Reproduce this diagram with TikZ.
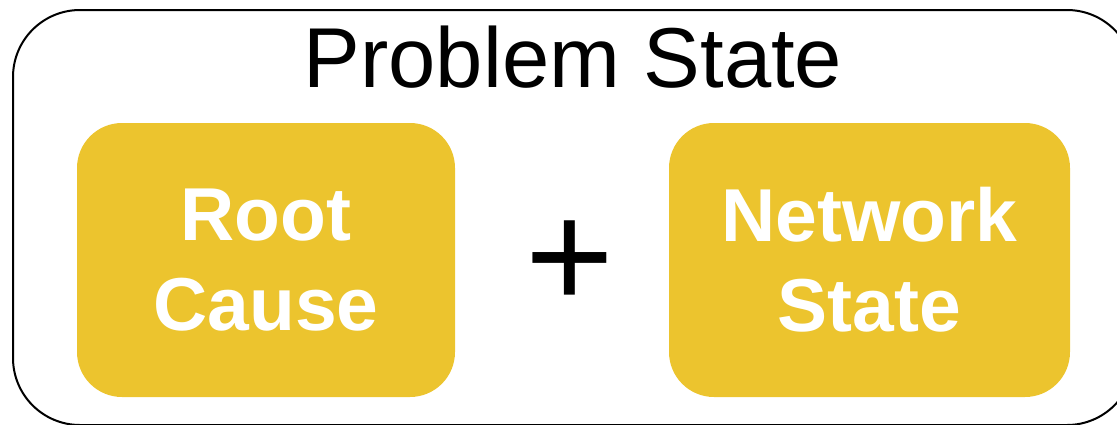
\documentclass[tikz,border=0pt]{standalone}
\usepackage{fontspec}
\setmainfont{Liberation Sans}
\definecolor{boxyellow}{RGB}{236,196,46}
\begin{document}
\begin{tikzpicture}[x=1pt,y=-1pt,
  yellowbox/.style={fill=boxyellow, draw=none, rounded corners=45pt,
    minimum width=378pt, minimum height=274pt, inner sep=0pt,
    text=white, align=center,
    font=\bfseries\fontsize{75}{90}\selectfont},
  outerbox/.style={draw=black, line width=2pt, rounded corners=67pt}]
\useasboundingbox (0,0) rectangle (1117,424);
\draw[outerbox] (13,10) rectangle (1134,425);
\node[anchor=base, inner sep=0pt, font=\fontsize{85}{100}\selectfont] (title) at (573,87) {Problem State};
\node[yellowbox] (root) at (266,260) {Root\\Cause};
\node[yellowbox, minimum width=401pt] (net) at (869.5,260) {Network\\State};
\node[anchor=base, inner sep=0pt, font=\fontsize{152}{170}\selectfont] (plus) at (570,308) {+};
\end{tikzpicture}
\end{document}
